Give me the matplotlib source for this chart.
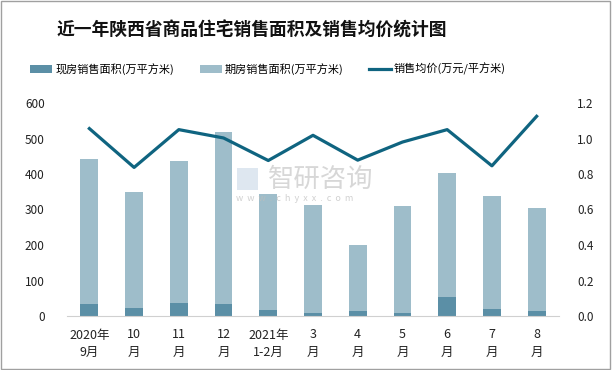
import matplotlib.pyplot as plt
from matplotlib.patches import Rectangle

plt.rcParams['font.family'] = ['Noto Sans CJK SC', 'DejaVu Sans']

# 数据
months = ['2020年\n9月', '10\n月', '11\n月', '12\n月', '2021年\n1-2月', '3\n月', '4\n月', '5\n月', '6\n月', '7\n月', '8\n月']
xianfang = [35, 23, 37, 35, 18, 9, 13, 9, 54, 21, 13]          # 现房销售面积
qifang = [407, 326, 399, 483, 326, 303, 187, 301, 349, 317, 291]  # 期房销售面积
price = [1.056, 0.837, 1.05, 1.003, 0.876, 1.018, 0.878, 0.98, 1.05, 0.846, 1.125]  # 销售均价

c_dark = '#5b8fa6'
c_light = '#9ebdca'
c_line = '#0f6480'

W, H = 612, 370
fig = plt.figure(figsize=(W / 100, H / 100), dpi=100)
ax = fig.add_axes([67/W, 1 - 316/H, (559 - 67)/W, (316 - 103)/H])
x = list(range(len(months)))

b1 = ax.bar(x, xianfang, width=0.4, color=c_dark, label='现房销售面积(万平方米)', zorder=2)
b2 = ax.bar(x, qifang, width=0.4, bottom=xianfang, color=c_light, label='期房销售面积(万平方米)', zorder=2)
ax.set_xlim(-0.5, len(months) - 0.5)
ax.set_ylim(0, 600)
ax.set_yticks(range(0, 601, 100))
ax.set_xticks(x)
ax.set_xticklabels(months, fontsize=9, linespacing=1.45)

ax2 = ax.twinx()
l1, = ax2.plot(x, price, color=c_line, lw=2.3, label='销售均价(万元/平方米)', zorder=3)
ax2.set_ylim(0, 1.2)
ax2.set_yticks([0, 0.2, 0.4, 0.6, 0.8, 1.0, 1.2])
ax2.set_yticklabels(['0.0', '0.2', '0.4', '0.6', '0.8', '1.0', '1.2'])

for a in (ax, ax2):
    for s in ('top', 'left', 'right'):
        a.spines[s].set_visible(False)
    a.tick_params(length=0, labelsize=8.5, colors='#222222')
ax.spines['bottom'].set_color('#d0d0d0')
ax2.spines['bottom'].set_visible(False)
ax.tick_params(axis='y', pad=16)
ax2.tick_params(axis='y', pad=13)
ax.tick_params(axis='x', labelsize=9, pad=9)

# 水印
fig.text(268/W, 1 - 179/H, '智研咨询', fontsize=19, color='#bdbdbd', alpha=0.6, va='center', zorder=5)
fig.text(236/W, 1 - 199/H, 'w  w  w  .  c  h  y  x  x  .  c  o  m', fontsize=6.5, color='#bdbdbd',
         alpha=0.7, va='center', zorder=5)
fig.patches.append(Rectangle((237/W, 1 - 190/H), 21/W, 22/H, transform=fig.transFigure,
                             facecolor='#c9d8e6', edgecolor='none', alpha=0.6, zorder=5))

fig.text(252/W, 1 - 30/H, '近一年陕西省商品住宅销售面积及销售均价统计图',
         fontsize=12.8, fontweight='bold', ha='center', va='center', color='#111111')

fig.legend(handles=[b1, b2, l1], loc='center', bbox_to_anchor=(268/W, 1 - 69/H), ncol=3,
           frameon=False, fontsize=8, handlelength=2.0, handletextpad=0.25, columnspacing=2.3)

fig.patches.append(Rectangle((0.002, 0.003), 0.995, 0.994, transform=fig.transFigure,
                             fill=False, edgecolor='#a0a0a0', lw=1))

fig.savefig('out.png', dpi=100)
